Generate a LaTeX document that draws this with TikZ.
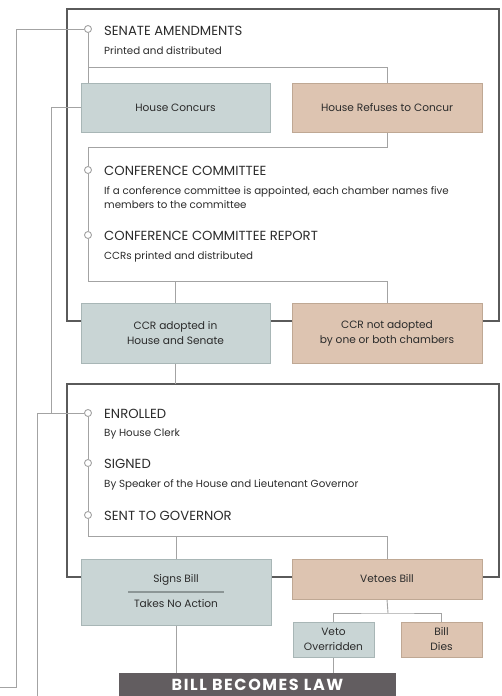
\documentclass[tikz,border=0pt]{standalone}
\usepackage{fontspec}
\setmainfont{Poppins}
\usetikzlibrary{backgrounds}
\definecolor{bluefill}{HTML}{C9D5D5}
\definecolor{blueline}{HTML}{A8B6B6}
\definecolor{tanfill}{HTML}{DDC4B1}
\definecolor{tanline}{HTML}{BFA894}
\definecolor{framegray}{HTML}{5A5A5A}
\definecolor{linegray}{HTML}{A3A3A3}
\definecolor{sepgray}{HTML}{8C9696}
\definecolor{lawfill}{HTML}{625D60}
\definecolor{txt}{HTML}{2B2B2B}
\tikzset{
  frame/.style={draw=framegray,line width=2pt},
  conn/.style={draw=linegray,line width=0.9pt},
  boxbase/.style={rectangle,line width=1pt,inner sep=2pt,align=center,text=txt,font=\fontsize{10.6}{15}\selectfont},
  bluebox/.style={boxbase,fill=bluefill,draw=blueline},
  tanbox/.style={boxbase,fill=tanfill,draw=tanline},
  dot/.style={circle,draw=linegray,fill=white,line width=0.9pt,inner sep=0pt,minimum size=7pt},
  ttl/.style={anchor=base west,inner sep=0pt,text=txt,font=\fontsize{13.2}{15}\selectfont},
  sub/.style={anchor=base west,inner sep=0pt,text=txt,align=left,font=\fontsize{10.3}{14.5}\selectfont},
}
\begin{document}
\begin{tikzpicture}[x=1pt,y=-1pt]
\useasboundingbox (0,0) rectangle (501,696);
\clip (0,0) rectangle (501,696);
% timeline dots
\node[dot] (sa) at (88,29) {};
\node[dot] (cc) at (88,170) {};
\node[dot] (ccr) at (88,235) {};
\node[dot] (en) at (88,413) {};
\node[dot] (sg) at (88,463) {};
\node[dot] (sg2) at (88,515) {};
% titles and notes
\node[ttl] (tsa) at (104,35.5) {SENATE AMENDMENTS};
\node[sub] (nsa) at (104,54.5) {Printed and distributed};
\node[ttl] (tcc) at (104,175.5) {CONFERENCE COMMITTEE};
\node[sub] (ncc) at (104,194) {If a conference committee is appointed, each chamber names five};
\node[sub] (ncc2) at (104,208.5) {members to the committee};
\node[ttl] (tccr) at (104,240.5) {CONFERENCE COMMITTEE REPORT};
\node[sub] (nccr) at (104,259) {CCRs printed and distributed};
\node[ttl] (ten) at (104,418.5) {ENROLLED};
\node[sub] (nen) at (104,436) {By House Clerk};
\node[ttl] (tsg) at (104,468.5) {SIGNED};
\node[sub] (nsg) at (104,487) {By Speaker of the House and Lieutenant Governor};
\node[ttl] (tsg2) at (104,520.5) {SENT TO GOVERNOR};
% boxes
\node[bluebox,minimum width=189pt,minimum height=49pt] (hc) at (175.5,107.5) {House Concurs};
\node[tanbox,minimum width=190pt,minimum height=49pt] (hr) at (387,107.5) {House Refuses to Concur};
\node[bluebox,minimum width=189pt,minimum height=60pt] (ca) at (175.5,333) {CCR adopted in\\House and Senate};
\node[tanbox,minimum width=190pt,minimum height=60pt] (cn) at (387,333) {CCR not adopted\\by one or both chambers};
\node[bluebox,minimum width=190pt,minimum height=66pt] (sb) at (176,592) {};
\node[boxbase,inner sep=0pt] (sbt) at (176,580) {Signs Bill};
\node[boxbase,inner sep=0pt] (sbn) at (176,604) {Takes No Action};
\coordinate (s1) at (128,592);
\coordinate (s2) at (224,592);
\draw[draw=sepgray,line width=1.1pt] (s1) -- (s2);
\node[tanbox,minimum width=190pt,minimum height=40pt] (vb) at (387,579) {Vetoes Bill};
\node[bluebox,minimum width=81pt,minimum height=35pt] (vo) at (333.5,639.5) {Veto\\Overridden};
\node[tanbox,minimum width=81pt,minimum height=35pt] (bd) at (441.5,639.5) {Bill\\Dies};
\node[rectangle,fill=lawfill,minimum width=277pt,minimum height=23pt,inner sep=0pt,text=white,
  font=\fontsize{16}{18}\selectfont\bfseries\addfontfeatures{LetterSpace=10}] (law) at (257.5,684.5) {\raisebox{-1.5pt}{BILL BECOMES LAW}};
% named junctions
\coordinate (j1) at (88,67);
\coordinate (j2) at (88,147);
\coordinate (j3) at (88,281);
\coordinate (j4) at (175.5,384);
\coordinate (j5) at (88,536);
\coordinate (j6) at (388,613);
\coordinate (l1) at (16,29);
\coordinate (l2) at (16,687);
\coordinate (l3) at (0,687);
\coordinate (m1) at (51,107.5);
\coordinate (m2) at (51,413);
\coordinate (k1) at (37,413);
\coordinate (k2) at (37,696);
\begin{scope}[on background layer]
  \draw[frame] (67,9) rectangle (499,321);
  \draw[frame] (67,384) rectangle (499,577);
  % timeline 1
  \draw[conn] (sa) -- (sa |- hc.north);
  \draw[conn] (j1) -| (hr.north);
  \draw[conn] (hr.south) |- (j2) -- (cc) -- (ccr) -- (j3) -| (cn.north);
  \draw[conn] (ca.north) -- (ca.north |- j3);
  \draw[conn] (ca.south) -- (j4);
  % timeline 2
  \draw[conn] (en) -- (sg) -- (sg2) -- (j5) -| (vb.north);
  \draw[conn] (sb.north) -- (sb.north |- j5);
  \draw[conn] (vb.south) -- (j6);
  \draw[conn] (vo.north) |- (j6) -| (bd.north);
  \draw[conn] (sb.south) -- (sb.south |- law.north);
  \draw[conn] (vo.south) -- (vo.south |- law.north);
  % feedback lines
  \draw[conn] (sa.west) -- (l1) -- (l2) -- (l3);
  \draw[conn] (hc.west) -- (m1) -- (m2);
  \draw[conn] (en.west) -- (k1) -- (k2);
\end{scope}
\end{tikzpicture}
\end{document}
